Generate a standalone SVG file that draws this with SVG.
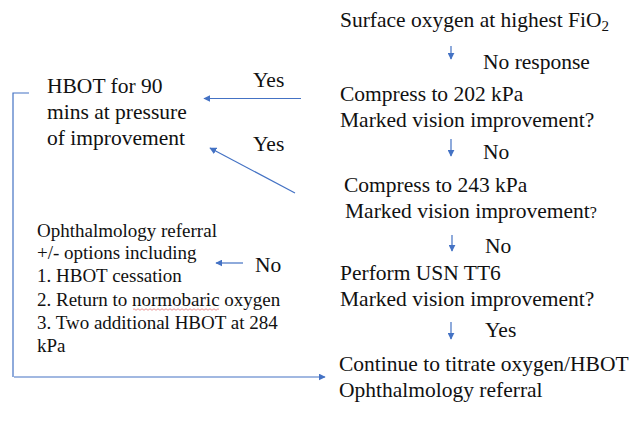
<svg xmlns="http://www.w3.org/2000/svg" width="632" height="436" viewBox="0 0 632 436">
  <style>
    .t { font-family: "Liberation Serif", "Times New Roman", serif; font-size: 21.5px; fill: #111; }
    .s { font-family: "Liberation Serif", "Times New Roman", serif; font-size: 19px; fill: #111; }
    .ln { stroke: #4472C4; stroke-width: 1.2; fill: none; }
  </style>
  <defs>
    <marker id="ah" viewBox="0 0 10 10" refX="9" refY="5" markerWidth="7" markerHeight="7" markerUnits="userSpaceOnUse" orient="auto">
      <path d="M0,0 L10,5 L0,10 z" fill="#4472C4"/>
    </marker>
  </defs>
  <rect width="632" height="436" fill="#fff"/>

  <g id="surface">
    <text class="t" x="340" y="27">Surface oxygen at highest FiO<tspan font-size="15" dy="4">2</tspan></text>
  </g>
  <g id="compress202">
    <text class="t" x="340" y="101">Compress to 202 kPa</text>
    <text class="t" x="340" y="127">Marked vision improvement?</text>
  </g>
  <g id="compress243">
    <text class="t" x="344" y="192">Compress to 243 kPa</text>
    <text class="t" x="345" y="218">Marked vision improvement<tspan font-size="16">?</tspan></text>
  </g>
  <g id="tt6">
    <text class="t" x="340" y="280">Perform USN TT6</text>
    <text class="t" x="340" y="306">Marked vision improvement?</text>
  </g>
  <g id="continue">
    <text class="t" x="339" y="371">Continue to titrate oxygen/HBOT</text>
    <text class="t" x="339" y="397">Ophthalmology referral</text>
  </g>
  <g id="hbot90">
    <text class="t" x="47" y="93">HBOT for 90</text>
    <text class="t" x="47" y="119">mins at pressure</text>
    <text class="t" x="47" y="145">of improvement</text>
  </g>
  <g id="referral">
    <text class="s" x="37" y="237">Ophthalmology referral</text>
    <text class="s" x="37" y="259">+/- options including</text>
    <text class="s" x="37" y="282">1. HBOT cessation</text>
    <text class="s" x="37" y="306">2. Return to normobaric oxygen</text>
    <text class="s" x="37" y="329">3. Two additional HBOT at 284</text>
    <text class="s" x="37" y="352">kPa</text>
    <!-- spell-check squiggle under "normobaric" -->
    <path d="M133,309.5 q1,-1.5 2,0 t2,0 t2,0 t2,0 t2,0 t2,0 t2,0 t2,0 t2,0 t2,0 t2,0 t2,0 t2,0 t2,0 t2,0 t2,0 t2,0 t2,0 t2,0 t2,0 t2,0 t2,0 t2,0 t2,0 t2,0 t2,0 t2,0 t2,0 t2,0 t2,0 t2,0 t2,0 t2,0 t2,0 t2,0 t2,0 t2,0 t2,0 t2,0 t2,0 t2,0 t2,0 t2,0" stroke="#e06060" stroke-width="0.7" fill="none"/>
  </g>

  <g id="connectors">
    <path class="ln" d="M451,46 V59" marker-end="url(#ah)"/>
    <text class="t" x="483" y="69">No response</text>
    <path class="ln" d="M451,139 V156" marker-end="url(#ah)"/>
    <text class="t" x="483" y="159">No</text>
    <path class="ln" d="M452,235 V251" marker-end="url(#ah)"/>
    <text class="t" x="485" y="253">No</text>
    <path class="ln" d="M451,322 V339" marker-end="url(#ah)"/>
    <text class="t" x="485" y="337">Yes</text>

    <path class="ln" d="M301,98.5 H204" marker-end="url(#ah)"/>
    <text class="t" x="253" y="87">Yes</text>
    <path class="ln" d="M295,193 L210,148" marker-end="url(#ah)"/>
    <text class="t" x="253" y="151">Yes</text>
    <path class="ln" d="M243,263 H216" marker-end="url(#ah)"/>
    <text class="t" x="255" y="272">No</text>

    <path class="ln" d="M29,93 H13 V377"/>
    <path class="ln" d="M14,377 H325" marker-end="url(#ah)"/>
  </g>
</svg>
